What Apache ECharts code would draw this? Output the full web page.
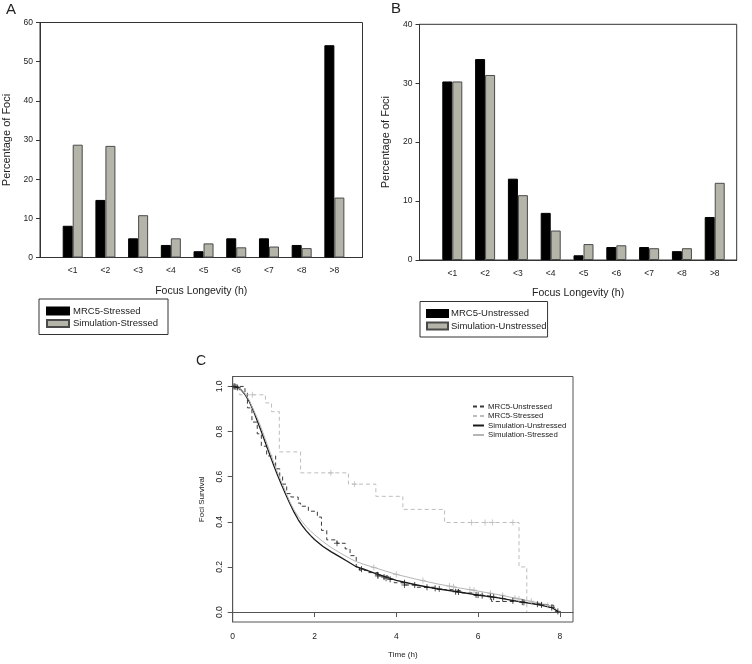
<!DOCTYPE html>
<html>
<head>
<meta charset="utf-8">
<script src="https://cdn.jsdelivr.net/npm/echarts@6/dist/echarts.min.js"></script>
<style>
html,body{margin:0;padding:0;background:#fff;}
#chart{width:752px;height:664px;}
</style>
</head>
<body>
<div id="chart"></div>
<script>
// ---------- data ----------
const catLabels = ['<1','<2','<3','<4','<5','<6','<7','<8','>8'];
const aMrc5Stressed = [8.1,14.7,4.9,3.2,1.6,4.9,4.9,3.2,54.2];
const aSimStressed  = [28.8,28.5,10.8,4.9,3.6,2.6,2.8,2.4,15.3];
const bMrc5Unstressed = [30.3,34.1,13.8,8.0,0.8,2.2,2.2,1.5,7.3];
const bSimUnstressed  = [30.3,31.4,11.0,5.0,2.7,2.5,2.0,2.0,13.1];
const aYTicks = [0,10,20,30,40,50,60];
const bYTicks = [0,10,20,30,40];
const cXTicks = [0,2,4,6,8];
const cYTicks = [0,0.2,0.4,0.6,0.8,1.0];

// Kaplan-Meier steps (time, survival)
const mrc5UnT = [0,0.3,0.36,0.47,0.6,0.7,0.83,1.05,1.15,1.22,1.32,1.42,1.6,1.66,1.85,2.07,2.17,2.3,2.55,2.75,2.87,3.02,3.1,3.3,3.55,3.8,3.95,4.2,4.5,5.0,5.3,5.6,5.9,6.1,6.33,6.98,7.3,7.6,7.85];
const mrc5UnS = [1.0,0.97,0.905,0.842,0.79,0.735,0.692,0.635,0.6,0.567,0.525,0.51,0.483,0.469,0.447,0.421,0.362,0.32,0.305,0.28,0.25,0.2,0.185,0.175,0.16,0.145,0.13,0.12,0.11,0.1,0.095,0.085,0.075,0.07,0.047,0.04,0.035,0.03,0.02];
const mrc5StT = [0,0.17,0.8,0.95,1.14,1.66,2.83,3.5,4.16,5.18,7.0,7.19];
const mrc5StS = [1.0,0.963,0.927,0.888,0.71,0.617,0.567,0.513,0.455,0.397,0.2,0.0];
const simUnT = [0,0.1,0.2,0.3,0.4,0.5,0.6,0.7,0.8,0.9,1.0,1.1,1.2,1.3,1.4,1.5,1.6,1.7,1.8,1.9,2.0,2.2,2.4,2.6,2.8,3.0,3.2,3.5,4.0,4.5,5.0,5.5,6.0,6.5,7.0,7.5,7.8,7.95];
const simUnS = [1.0,0.996,0.986,0.965,0.935,0.895,0.848,0.8,0.75,0.7,0.652,0.605,0.562,0.52,0.48,0.443,0.41,0.383,0.36,0.34,0.322,0.292,0.268,0.247,0.225,0.203,0.19,0.17,0.14,0.12,0.103,0.09,0.075,0.063,0.046,0.032,0.02,0.003];
const simStT = [0,0.1,0.2,0.3,0.4,0.5,0.6,0.7,0.8,0.9,1.0,1.1,1.2,1.3,1.4,1.5,1.6,1.7,1.8,1.9,2.0,2.2,2.4,2.6,2.8,3.0,3.2,3.5,4.0,4.5,5.0,5.5,6.0,6.5,7.0,7.5,7.8,7.9];
const simStS = [1.0,0.996,0.987,0.968,0.94,0.9,0.86,0.815,0.765,0.715,0.665,0.617,0.573,0.53,0.488,0.452,0.425,0.4,0.378,0.36,0.343,0.313,0.287,0.265,0.244,0.225,0.212,0.195,0.167,0.145,0.125,0.108,0.093,0.077,0.058,0.04,0.025,0.015];

// censor marks
const censMrc5UnT = [0.05,2.55,3.55,3.75,4.2];
const censMrc5UnS = [1.0,0.305,0.16,0.15,0.12];
const censMrc5StT = [0.48,2.4,2.98,5.84,6.17,6.35,6.85];
const censMrc5StS = [0.963,0.617,0.567,0.397,0.397,0.397,0.397];
const censSimUnT = [0.03,0.08,0.12,3.15,3.55,3.7,3.85,4.2,4.45,4.75,4.95,5.05,5.45,5.52,5.95,6.0,6.1,6.3,6.38,6.6,6.85,7.08,7.12,7.45,7.55,7.8,7.95];
const censSimUnS = [1.0,0.998,0.995,0.19,0.165,0.155,0.145,0.13,0.12,0.11,0.105,0.103,0.09,0.089,0.076,0.075,0.073,0.068,0.066,0.06,0.05,0.044,0.043,0.035,0.032,0.02,0.003];
const censSimStT = [0.06,3.45,4.0,4.65,5.3,5.4,5.8,5.9,6.3,6.6,6.9,7.0,7.3,7.7];
const censSimStS = [1.0,0.198,0.167,0.14,0.115,0.112,0.1,0.097,0.083,0.074,0.062,0.058,0.048,0.03];

// ---------- helpers ----------
const FONT = 'Liberation Sans, Arial, sans-serif';
const TXT = '#222';
const zip = (xs, ys) => xs.map((x, i) => [x, ys[i]]);
const catData = vals => vals.map((v, i) => [i + 1, v]);
const catTickVals = catLabels.map((c, i) => i + 1);
const CPFX = 'C ';
const plusPath = 'path://M0,5L10,5M5,0L5,10';

function barXAxis(gridIndex, max) {
  return {
    type: 'value', gridIndex, min: 0, max,
    name: 'Focus Longevity (h)', nameLocation: 'middle', nameGap: 28,
    nameTextStyle: {fontFamily: FONT, fontSize: 10.5, color: TXT},
    axisLine: {show: true, lineStyle: {color: '#333', width: 1}},
    axisTick: {show: false},
    splitLine: {show: false},
    axisLabel: {
      customValues: catTickVals, margin: 9,
      formatter: v => catLabels[Math.round(v) - 1] || '',
      fontFamily: FONT, fontSize: 8.5, color: TXT
    }
  };
}
function barYAxis(gridIndex, ticks) {
  return {
    type: 'value', gridIndex, min: ticks[0], max: ticks[ticks.length - 1], interval: ticks[1] - ticks[0],
    name: 'Percentage of Foci', nameLocation: 'middle', nameGap: 28,
    nameTextStyle: {fontFamily: FONT, fontSize: 11, color: TXT},
    axisLine: {show: true, lineStyle: {color: '#333', width: 1}},
    axisTick: {show: true, length: 4, lineStyle: {color: '#333'}},
    splitLine: {show: false},
    axisLabel: {margin: 7, fontFamily: FONT, fontSize: 8.5, color: TXT}
  };
}
function barSeries(name, vals, idx, fill, border) {
  return {
    type: 'bar', name, xAxisIndex: idx, yAxisIndex: idx,
    data: catData(vals), barWidth: 10, barGap: '0%',
    itemStyle: {color: fill, borderColor: border, borderWidth: 1},
    emphasis: {disabled: true}
  };
}
function kmLine(name, t, s, color, dashed, step, width) {
  return {
    type: 'line', name: CPFX + name, xAxisIndex: 2, yAxisIndex: 2,
    data: zip(t, s), step: step ? 'end' : false, symbol: 'none', showSymbol: false,
    lineStyle: {color, width: width || 1, type: dashed ? [4, 3] : 'solid'},
    itemStyle: {color},
    emphasis: {disabled: true}, z: 3
  };
}
function censor(t, s, color) {
  return {
    type: 'scatter', xAxisIndex: 2, yAxisIndex: 2, data: zip(t, s),
    symbol: plusPath, symbolSize: 6,
    itemStyle: {color: 'none', borderColor: color, borderWidth: 1},
    emphasis: {disabled: true}, z: 4
  };
}

const GRAY = '#b4b4a9';
const option = {
  animation: false,
  backgroundColor: '#fff',
  textStyle: {fontFamily: FONT},
  title: [
    {text: 'A', left: 6, top: 2, padding: 0, textStyle: {fontFamily: FONT, fontSize: 15, fontWeight: 'normal', color: TXT}},
    {text: 'B', left: 391, top: 1, padding: 0, textStyle: {fontFamily: FONT, fontSize: 15, fontWeight: 'normal', color: TXT}},
    {text: 'C', left: 196, top: 354, padding: 0, textStyle: {fontFamily: FONT, fontSize: 14, fontWeight: 'normal', color: TXT}}
  ],
  grid: [
    {left: 39.5, top: 22.5, width: 323, height: 235, show: true, borderColor: '#333', borderWidth: 1, backgroundColor: 'transparent'},
    {left: 419.5, top: 24.3, width: 317.2, height: 235.7, show: true, borderColor: '#333', borderWidth: 1, backgroundColor: 'transparent'},
    {left: 232.7, top: 376.5, width: 340.3, height: 245.5, show: true, borderColor: '#555', borderWidth: 1, backgroundColor: 'transparent'}
  ],
  xAxis: [
    barXAxis(0, 9.86),
    barXAxis(1, 9.67),
    {
      type: 'value', gridIndex: 2, min: 0, max: 8.32,
      name: 'Time (h)', nameLocation: 'middle', nameGap: 29,
      nameTextStyle: {fontFamily: FONT, fontSize: 8, color: TXT},
      axisLine: {show: true, lineStyle: {color: '#555'}},
      axisTick: {show: true, length: 5, customValues: cXTicks, lineStyle: {color: '#555'}},
      splitLine: {show: false},
      axisLabel: {customValues: cXTicks, margin: 10, fontFamily: FONT, fontSize: 8.5, color: TXT}
    }
  ],
  yAxis: [
    barYAxis(0, aYTicks),
    barYAxis(1, bYTicks),
    {
      type: 'value', gridIndex: 2, min: -0.044, max: 1.044,
      name: 'Foci Survival', nameLocation: 'middle', nameGap: 27,
      nameTextStyle: {fontFamily: FONT, fontSize: 8, color: TXT},
      axisLine: {show: true, lineStyle: {color: '#555'}},
      axisTick: {show: true, length: 5, customValues: cYTicks, lineStyle: {color: '#555'}},
      splitLine: {show: false},
      axisLabel: {customValues: cYTicks, rotate: 90, margin: 9, formatter: v => v.toFixed(1),
        fontFamily: FONT, fontSize: 8.5, color: TXT}
    }
  ],
  legend: [
    {
      data: ['MRC5-Stressed', 'Simulation-Stressed'], orient: 'vertical', left: 39, top: 299,
      padding: [7, 10, 6, 7], itemGap: 2.5, itemWidth: 22, itemHeight: 7, icon: 'rect',
      borderColor: '#333', borderWidth: 1, selectedMode: false,
      textStyle: {fontFamily: FONT, fontSize: 9.5, color: TXT, padding: [0, 0, 0, -1]}
    },
    {
      data: ['MRC5-Unstressed', 'Simulation-Unstressed'], orient: 'vertical', left: 420, top: 301.5,
      padding: [7, 1, 6, 6], itemGap: 2.5, itemWidth: 21, itemHeight: 7, icon: 'rect',
      borderColor: '#333', borderWidth: 1, selectedMode: false,
      textStyle: {fontFamily: FONT, fontSize: 9.5, color: TXT, padding: [0, 0, 0, -2]}
    },
    {
      data: [CPFX + 'MRC5-Unstressed', CPFX + 'MRC5-Stressed', CPFX + 'Simulation-Unstressed', CPFX + 'Simulation-Stressed'],
      orient: 'vertical', left: 472, top: 402.5, padding: 0, itemGap: 1.5, itemWidth: 11, itemHeight: 8,
      selectedMode: false, formatter: n => n.slice(CPFX.length),
      itemStyle: {opacity: 0},
      textStyle: {fontFamily: FONT, fontSize: 7.8, color: TXT, padding: [0, 0, 0, -1]}
    }
  ],
  series: [
    barSeries('MRC5-Stressed', aMrc5Stressed, 0, '#000', '#000'),
    barSeries('Simulation-Stressed', aSimStressed, 0, GRAY, '#4a4a4a'),
    barSeries('MRC5-Unstressed', bMrc5Unstressed, 1, '#000', '#000'),
    barSeries('Simulation-Unstressed', bSimUnstressed, 1, GRAY, '#4a4a4a'),
    kmLine('MRC5-Unstressed', mrc5UnT, mrc5UnS, '#3a3a3a', true, true, 1),
    kmLine('MRC5-Stressed', mrc5StT, mrc5StS, '#bdbdbd', true, true, 1),
    kmLine('Simulation-Unstressed', simUnT, simUnS, '#1a1a1a', false, false, 1.3),
    kmLine('Simulation-Stressed', simStT, simStS, '#b5b5b5', false, false, 1),
    censor(censMrc5UnT, censMrc5UnS, '#3a3a3a'),
    censor(censMrc5StT, censMrc5StS, '#bdbdbd'),
    censor(censSimStT, censSimStS, '#b5b5b5'),
    censor(censSimUnT, censSimUnS, '#1a1a1a')
  ]
};
echarts.init(document.getElementById('chart'), null, {renderer: 'canvas'}).setOption(option);
</script>
</body>
</html>
